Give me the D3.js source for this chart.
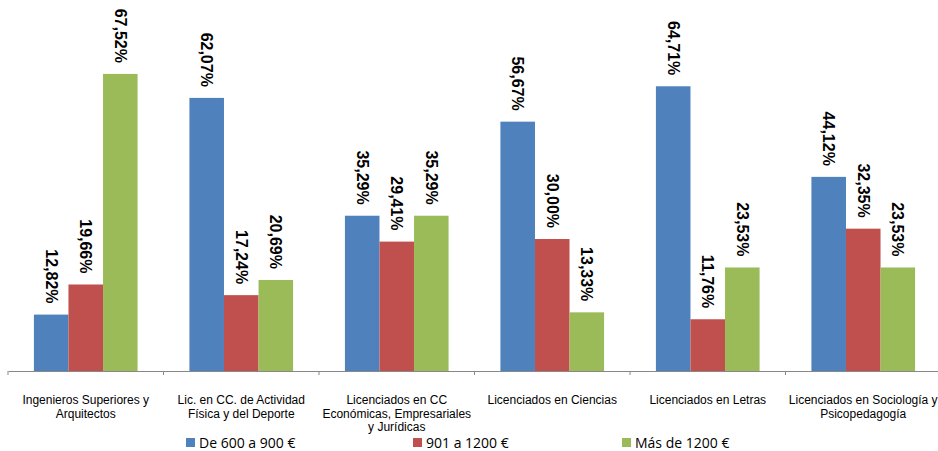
<!DOCTYPE html>
<html lang="es">
<head>
<meta charset="UTF-8">
<title>Salario por titulación</title>
<script src="https://cdn.jsdelivr.net/npm/d3@7/dist/d3.min.js"></script>
<style>
  body { margin: 0; background: #fff; }
  .cat-label { font-family: "Liberation Sans", Arial, sans-serif; font-size: 12px; fill: #000; }
  .val-label { font-family: "Liberation Sans", Arial, sans-serif; font-size: 16px; font-weight: bold; fill: #000; }
  .legend text { font-family: "Open Sans", "Liberation Sans", sans-serif; font-size: 14px; fill: #000; }
</style>
</head>
<body>
<svg width="938" height="451"></svg>
<script>
  // categorías (con saltos de línea tal como aparecen)
  const categories = [
    ["Ingenieros Superiores y", "Arquitectos"],
    ["Lic. en CC. de Actividad", "Física y del Deporte"],
    ["Licenciados en CC", "Económicas, Empresariales", "y Jurídicas"],
    ["Licenciados en Ciencias"],
    ["Licenciados en Letras"],
    ["Licenciados en Sociología y", "Psicopedagogía"]
  ];
  const seriesNames = ["De 600 a 900 €", "901 a 1200 €", "Más de 1200 €"];
  const seriesColors = ["#4F81BD", "#C0504D", "#9BBB59"];
  const s600a900 = [12.82, 62.07, 35.29, 56.67, 64.71, 44.12];
  const s901a1200 = [19.66, 17.24, 29.41, 30.00, 11.76, 32.35];
  const sMas1200 = [67.52, 20.69, 35.29, 13.33, 23.53, 23.53];
  const seriesValues = [s600a900, s901a1200, sMas1200];

  const svg = d3.select('svg');
  const x0 = 8, x1 = 941, yBase = 371;

  const xScale = d3.scaleBand()
    .domain(d3.range(categories.length))
    .range([x0, x1])
    .paddingInner(0)
    .paddingOuter(0);

  const inner = d3.scaleBand()
    .domain(d3.range(seriesNames.length))
    .range([0, xScale.bandwidth()])
    .paddingOuter(0.75)
    .paddingInner(0);

  const yScale = d3.scaleLinear().domain([0, 70]).range([yBase, 63]);

  const fmt = v => v.toFixed(2).replace('.', ',') + '%';

  // barras
  seriesValues.forEach((vals, s) => {
    const g = svg.append('g');
    g.selectAll('rect')
      .data(vals)
      .join('rect')
      .attr('x', (d, i) => xScale(i) + inner(s))
      .attr('y', d => yScale(d))
      .attr('width', inner.bandwidth())
      .attr('height', d => yBase - yScale(d))
      .attr('fill', seriesColors[s]);

    // etiquetas de valor (giradas)
    g.selectAll('text')
      .data(vals)
      .join('text')
      .attr('class', 'val-label')
      .attr('transform', (d, i) => {
        const cx = xScale(i) + inner(s) + inner.bandwidth() / 2;
        return `translate(${cx},${yScale(d) - 11}) rotate(90)`;
      })
      .attr('text-anchor', 'end')
      .attr('dy', '0.35em')
      .text(d => fmt(d));
  });

  // eje horizontal
  const axis = d3.axisBottom(xScale).tickSize(0).tickFormat('');
  const gAxis = svg.append('g')
    .attr('transform', `translate(0,${yBase})`)
    .call(axis);
  gAxis.select('.domain').attr('stroke', '#888').attr('stroke-width', 1.2);
  // marcas entre categorías
  const bounds = d3.range(categories.length + 1).map(i => x0 + i * xScale.step());
  gAxis.selectAll('line.sep')
    .data(bounds)
    .join('line')
    .attr('class', 'sep')
    .attr('x1', d => d).attr('x2', d => d)
    .attr('y1', 0).attr('y2', 4)
    .attr('stroke', '#888');

  // etiquetas de categoría
  categories.forEach((lines, i) => {
    const t = svg.append('text')
      .attr('class', 'cat-label')
      .attr('text-anchor', 'middle')
      .attr('x', xScale(i) + xScale.bandwidth() / 2)
      .attr('y', 404);
    lines.forEach((ln, j) => {
      t.append('tspan')
        .attr('x', xScale(i) + xScale.bandwidth() / 2)
        .attr('dy', j === 0 ? 0 : 13.5)
        .text(ln);
    });
  });

  // leyenda
  const legendX = [186, 413, 622];
  const legend = svg.append('g').attr('class', 'legend');
  seriesNames.forEach((name, s) => {
    legend.append('rect')
      .attr('x', legendX[s]).attr('y', 438)
      .attr('width', 9).attr('height', 9)
      .attr('fill', seriesColors[s]);
    legend.append('text')
      .attr('x', legendX[s] + 13).attr('y', 448)
      .text(name);
  });
</script>
</body>
</html>
